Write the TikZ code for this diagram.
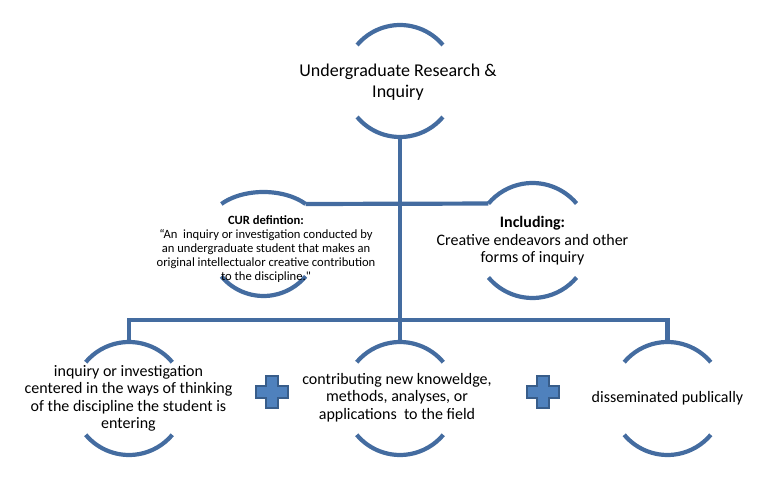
\documentclass[tikz,border=0pt]{standalone}
\usepackage{fontspec}
\setmainfont{Carlito}
\newcommand{\straightquote}{\XeTeXglyph\XeTeXcharglyph"22\relax}
\definecolor{linec}{RGB}{68,108,160}
\definecolor{plusfill}{RGB}{79,129,189}
\definecolor{plusdraw}{RGB}{56,93,138}
\tikzset{
  ring/.style={circle, inner sep=0pt, outer sep=0pt, minimum size=#1},
  arcline/.style={draw=linec, line width=4.2pt},
  conn/.style={draw=linec, line width=4.2pt, line join=miter},
  bigtxt/.style={align=center, font=\fontsize{18}{21}\selectfont, inner sep=0pt},
  midtxt/.style={align=center, font=\fontsize{16}{17.5}\selectfont, inner sep=0pt},
  smalltxt/.style={align=center, font=\fontsize{12.6}{14}\selectfont, inner sep=0pt},
  plussign/.style={fill=plusfill, draw=plusdraw, line width=2pt, line join=miter}
}
\begin{document}
\begin{tikzpicture}[x=1pt,y=1pt]
\useasboundingbox (0,0) rectangle (768,492);
% circles (invisible nodes that carry the geometry)
\node[ring=112pt] (topc) at (400,411) {};
\node[ring=110pt] (mlc) at (263.5,251) {};
\node[ring=115pt] (mrc) at (532.5,251.5) {};
\node[ring=113pt] (blc) at (129,93.5) {};
\node[ring=113pt] (bmc) at (400,93.5) {};
\node[ring=113pt] (brc) at (667.5,93.5) {};
\coordinate (mltop) at (305.6,288);
\coordinate (barM) at (400,172);
% arcs
\draw[arcline] (topc.40) arc[start angle=40,end angle=140,radius=56pt];
\draw[arcline] (topc.-140) arc[start angle=-140,end angle=-40,radius=56pt];
\draw[arcline] (mltop) arc[start angle=40,end angle=140,x radius=55pt,y radius=33.6pt];
\draw[arcline] (mlc.-140) arc[start angle=-140,end angle=-40,radius=55pt];
\draw[arcline] (mrc.40) arc[start angle=40,end angle=140,radius=57.5pt];
\draw[arcline] (mrc.-140) arc[start angle=-140,end angle=-40,radius=57.5pt];
\foreach \n in {blc,bmc,brc}{
  \draw[arcline] (\n.40) arc[start angle=40,end angle=140,radius=56.5pt];
  \draw[arcline] (\n.-140) arc[start angle=-140,end angle=-40,radius=56.5pt];
}
% connectors
\draw[conn] (topc.south) -- (barM);
\draw[conn] (mltop) -- (mrc.140);
\draw[conn] (blc.north) |- (barM) -| (brc.north);
\draw[conn] (barM) -- (bmc.north);
% texts
\node[bigtxt] (topt) at (398,410) {Undergraduate Research \&\\Inquiry};
\node[smalltxt] (mlt) at (266,242.5) {\textbf{CUR defintion:}\\“An\ \ inquiry or investigation conducted by\\an undergraduate student that makes an\\original intellectualor creative contribution\\to the discipline.\straightquote};
\node[midtxt] (mrt) at (532.5,251) {\textbf{Including:}\\Creative endeavors and other\\forms of inquiry};
\node[midtxt] (blt) at (128.5,93.5) {inquiry or investigation\\centered in the ways of thinking\\of the discipline the student is\\entering};
\node[midtxt] (bmt) at (397,94.5) {contributing new knoweldge,\\methods, analyses, or\\applications\ \ to the field};
\node[midtxt] (brt) at (667.5,94) {disseminated publically};
% plus signs
\coordinate (p1) at (272,99.5);
\coordinate (p2) at (542.5,99.5);
\foreach \p in {p1,p2}{
  \draw[plussign] (\p) ++(-6,16) -- ++(12,0) -- ++(0,-10) -- ++(10,0) -- ++(0,-12) -- ++(-10,0) -- ++(0,-10) -- ++(-12,0) -- ++(0,10) -- ++(-10,0) -- ++(0,12) -- ++(10,0) -- cycle;
}
\end{tikzpicture}
\end{document}
